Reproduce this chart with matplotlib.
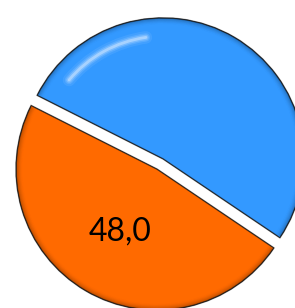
import matplotlib
matplotlib.use("Agg")
import matplotlib.pyplot as plt
from matplotlib.patches import Wedge, Arc
import numpy as np

categories = ["A", "B"]
values = [52.0, 48.0]
colors = ["#3399FF", "#FF6A00"]
explode = [0.042, 0.042]

fig = plt.figure(figsize=(2.95, 3.08), dpi=100)
ax = fig.add_axes([0, 0, 1, 1])

def fmt(p):
    return f"{p:.1f}".replace(".", ",") if p < 50 else ""

wedges, texts, autotexts = ax.pie(
    values, colors=colors, explode=explode, startangle=-34,
    counterclock=True, autopct=fmt, pctdistance=0.51,
    wedgeprops=dict(edgecolor="#2a2a2a", linewidth=0.6),
    textprops=dict(fontsize=23, color="black", family=["Lato", "DejaVu Sans"]),
)

# bevel shading: darker rim bands derived from each wedge's geometry
for w in wedges:
    c, r, t1, t2 = w.center, w.r, w.theta1, w.theta2
    n = 8
    for i in range(n):
        rr = r * (1 - 0.006 * i)
        a = 0.28 * (1 - i / n) ** 2
        ax.add_patch(Wedge(c, rr, t1 + 0.5, t2 - 0.5, width=r * 0.006,
                           facecolor="black", alpha=a, linewidth=0, zorder=3))
    ax.add_patch(Wedge(c, r, t1, t2, facecolor="none", edgecolor="black",
                       alpha=0.35, linewidth=1.2, zorder=3))

# soft glossy highlight on the blue slice
bw = wedges[0]
for rad, lw, al in [(0.87, 9, 0.08), (0.87, 6, 0.12), (0.87, 4, 0.2), (0.87, 2, 0.35)]:
    ax.add_patch(Arc(bw.center, 2 * rad * bw.r, 2 * rad * bw.r, theta1=98,
                     theta2=140, color="white", linewidth=lw, alpha=al, zorder=4,
                     capstyle="round"))

for t in autotexts:
    t.set_zorder(6)

ax.set_aspect("equal")
s = 141.0
cx, cy = 160.0, 164.0
ax.set_xlim(-cx / s, (295 - cx) / s)
ax.set_ylim(-(308 - cy) / s, cy / s)
ax.axis("off")
fig.savefig("out.png", dpi=100)
